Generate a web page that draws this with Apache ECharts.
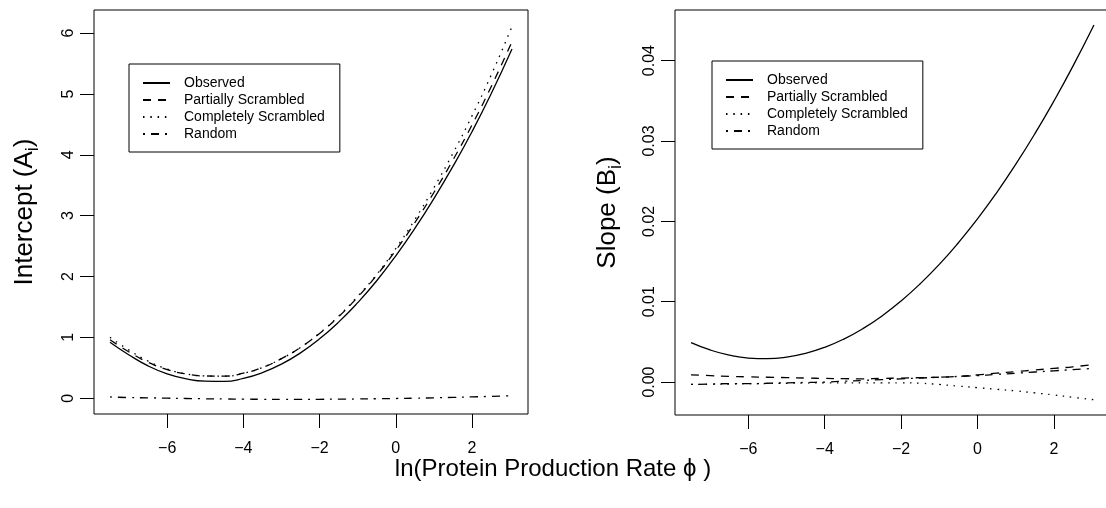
<!DOCTYPE html>
<html><head><meta charset="utf-8">
<script src="https://cdn.jsdelivr.net/npm/echarts@6/dist/echarts.min.js"></script>
<style>html,body{margin:0;padding:0;background:#fff;overflow:hidden}#c{width:1106px;height:508px}</style>
</head><body><div id="c"></div>
<script>
// ln(Protein Production Rate phi)
const xValues = [-7.5,-7,-6.5,-6,-5.5,-5,-4.5,-4,-3.5,-3,-2.5,-2,-1.5,-1,-0.5,0,0.5,1,1.5,2,2.5,3.05];
const seriesNames = ['Observed','Partially Scrambled','Completely Scrambled','Random'];

// Left panel: Intercept (A_i)
const interceptObserved  = [0.92,0.71,0.53,0.40,0.318,0.279,0.275,0.325,0.42,0.56,0.745,0.975,1.25,1.57,1.93,2.34,2.79,3.28,3.81,4.38,5.00,5.74];
const interceptPartial   = [0.96,0.76,0.59,0.47,0.398,0.365,0.362,0.41,0.505,0.65,0.835,1.065,1.34,1.66,2.02,2.43,2.885,3.38,3.915,4.49,5.115,5.86];
const interceptComplete  = [1.00,0.79,0.61,0.48,0.398,0.365,0.362,0.41,0.505,0.65,0.835,1.07,1.35,1.675,2.035,2.46,2.935,3.46,4.025,4.64,5.305,6.11];
const interceptRandom    = [0.02,0.01,0.005,0,-0.005,-0.01,-0.013,-0.016,-0.018,-0.019,-0.019,-0.018,-0.016,-0.013,-0.009,-0.005,0,0.006,0.013,0.021,0.03,0.04];

// Right panel: Slope (B_i)
const slopeObserved = [0.0049,0.00399,0.00335,0.00299,0.00291,0.0031,0.00357,0.00432,0.00535,0.00665,0.00823,0.01009,0.01223,0.01464,0.01734,0.0203,0.02355,0.02708,0.03088,0.03496,0.03931,0.04443];
const slopePartial  = [0.0009,0.0008,0.0007,0.00065,0.0006,0.00055,0.0005,0.00045,0.00042,0.0004,0.00045,0.0005,0.00055,0.0006,0.0007,0.0009,0.0011,0.0013,0.0015,0.0017,0.0019,0.0022];
const slopeComplete = [-0.0003,-0.00028,-0.00025,-0.0002,-0.00018,-0.00015,-0.00012,-0.0001,-0.0001,-0.0001,-0.0001,-0.0001,-0.00015,-0.0003,-0.0005,-0.0007,-0.0009,-0.0011,-0.00135,-0.0016,-0.0019,-0.0022];
const slopeRandom   = [-0.0003,-0.00025,-0.0002,-0.0002,-0.00015,-0.0001,-0.00005,0,0.0001,0.0002,0.0003,0.0004,0.0005,0.0006,0.0007,0.0008,0.00095,0.0011,0.00125,0.0014,0.00155,0.0017];

const xTicks = [-6,-4,-2,0,2];
const interceptTicks = [0,1,2,3,4,5,6];
const slopeTicks = [0,0.01,0.02,0.03,0.04];

const FONT = '"Liberation Sans", Arial, Helvetica, sans-serif';
const dashTypes = ['solid',[8,7],[1.5,5.8],[2,6,8,6]];

function pairs(ys){ return xValues.map((x,i)=>[x, ys[i]]); }
const minus = v => (v < 0 ? '\u2212' + Math.abs(v) : String(v));

function xAxisCfg(gi){
  return {
    type:'value', gridIndex:gi, min:-7.92, max:3.47,
    axisLine:{show:false,onZero:false},
    axisTick:{show:true,length:14,customValues:xTicks,lineStyle:{color:'#000',width:1}},
    axisLabel:{customValues:xTicks,formatter:minus,margin:27,fontSize:16,color:'#000',fontFamily:FONT},
    splitLine:{show:false}
  };
}
function yAxisCfg(gi,min,max,ticks,fmt,name,gap){
  return {
    type:'value', gridIndex:gi, min:min, max:max,
    axisLine:{show:false,onZero:false},
    axisTick:{show:true,length:14,customValues:ticks,lineStyle:{color:'#000',width:1}},
    axisLabel:{customValues:ticks,formatter:fmt,rotate:90,margin:17,fontSize:16,color:'#000',fontFamily:FONT},
    splitLine:{show:false},
    name:name, nameLocation:'middle', nameRotate:90, nameGap:gap,
    nameTextStyle:{color:'#000',fontFamily:FONT,
      rich:{a:{fontSize:26,lineHeight:26,verticalAlign:'top',color:'#000',fontFamily:FONT},
            s:{fontSize:18,lineHeight:18,verticalAlign:'top',padding:[12,0,0,0],color:'#000',fontFamily:FONT}}}
  };
}
function legendCfg(left,top){
  return {
    left:left, top:top, orient:'vertical', data:seriesNames, selectedMode:false,
    itemWidth:27, itemHeight:14, itemGap:3, padding:[12,15,11,13],
    borderColor:'#000', borderWidth:1, backgroundColor:'#fff', borderRadius:0,
    itemStyle:{opacity:0, borderWidth:0},
    textStyle:{fontSize:14,color:'#000',fontFamily:FONT,padding:[0,0,0,9]}
  };
}
function lineSeries(name,k,xi,ys){
  return {type:'line', name:name, xAxisIndex:xi, yAxisIndex:xi, data:pairs(ys),
    symbol:'none', smooth:true, silent:true,
    lineStyle:{color:'#000', width:1.3, type:dashTypes[k]}};
}

const chart = echarts.init(document.getElementById('c'));
chart.setOption({
  animation:false,
  backgroundColor:'#fff',
  title:{text:'ln(Protein Production Rate \u03D5 )', left:'center', top:452,
    textStyle:{fontSize:24,fontWeight:'normal',color:'#000',fontFamily:FONT}},
  grid:[
    {left:94,width:434,top:10,height:404,outerBoundsMode:'none',containLabel:false,show:true,borderColor:'#000',borderWidth:1,backgroundColor:'transparent'},
    {left:675,width:435,top:10,height:405,outerBoundsMode:'none',containLabel:false,show:true,borderColor:'#000',borderWidth:1,backgroundColor:'transparent'}
  ],
  xAxis:[xAxisCfg(0),xAxisCfg(1)],
  yAxis:[
    yAxisCfg(0,-0.26,6.38,interceptTicks,v=>String(v),'{a|Intercept (A}{s|i}{a|)}',56),
    yAxisCfg(1,-0.0041,0.0463,slopeTicks,v=>v.toFixed(2),'{a|Slope (B}{s|i}{a|)}',54)
  ],
  legend:[legendCfg(129,64),legendCfg(712,61)],
  series:[
    lineSeries(seriesNames[0],0,0,interceptObserved),
    lineSeries(seriesNames[1],1,0,interceptPartial),
    lineSeries(seriesNames[2],2,0,interceptComplete),
    lineSeries(seriesNames[3],3,0,interceptRandom),
    lineSeries(seriesNames[0],0,1,slopeObserved),
    lineSeries(seriesNames[1],1,1,slopePartial),
    lineSeries(seriesNames[2],2,1,slopeComplete),
    lineSeries(seriesNames[3],3,1,slopeRandom)
  ]
});
</script></body></html>
